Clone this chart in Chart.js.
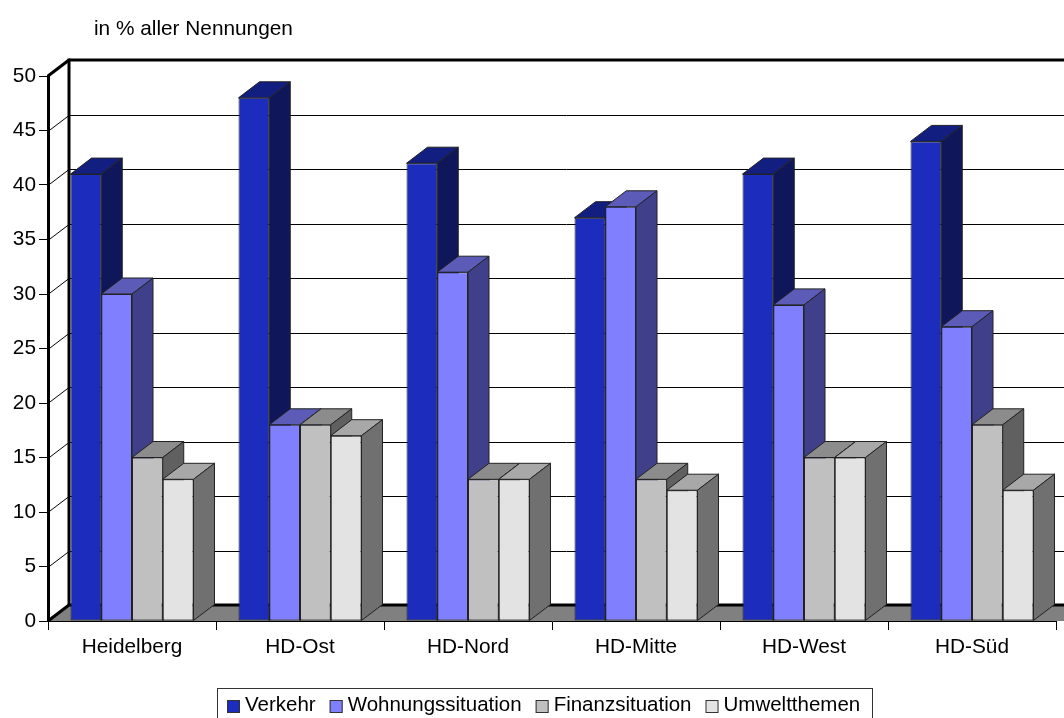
<!DOCTYPE html>
<html>
<head>
<meta charset="utf-8">
<script src="https://cdn.jsdelivr.net/npm/chart.js@4/dist/chart.umd.js"></script>
<style>
  html, body { margin: 0; padding: 0; background: #fff; overflow: hidden; }
  #wrap { width: 1064px; height: 718px; }
</style>
</head>
<body>
<div id="wrap"><canvas id="chart"></canvas></div>
<script>
const categories = ["Heidelberg", "HD-Ost", "HD-Nord", "HD-Mitte", "HD-West", "HD-Süd"];
const verkehr = [41, 48, 42, 37, 41, 44];
const wohnungssituation = [30, 18, 32, 38, 29, 27];
const finanzsituation = [15, 18, 13, 13, 15, 18];
const umweltthemen = [13, 17, 13, 12, 15, 12];
const yTicks = [0, 5, 10, 15, 20, 25, 30, 35, 40, 45, 50];
const note = "in % aller Nennungen";

const FONT = '"Liberation Sans", Arial, sans-serif';
const FONT_SIZE = 20.8;
// offset of the back wall against the front plane
const DX = 21;
const DY = -16;

function poly(ctx, pts, fill, stroke) {
  ctx.beginPath();
  pts.forEach((p, i) => (i ? ctx.lineTo(p[0], p[1]) : ctx.moveTo(p[0], p[1])));
  ctx.closePath();
  if (fill) {
    ctx.fillStyle = fill;
    ctx.fill();
  }
  if (stroke) {
    ctx.strokeStyle = stroke;
    ctx.stroke();
  }
}

function line(ctx, x1, y1, x2, y2) {
  ctx.beginPath();
  ctx.moveTo(x1, y1);
  ctx.lineTo(x2, y2);
  ctx.stroke();
}

// floor, back wall and the grid lines running over it
const wallPlugin = {
  id: "wall",
  beforeDraw(chart) {
    const { ctx, width } = chart;
    const y = chart.scales.y;
    const left = y.right;
    const y0 = y.getPixelForValue(0);
    const yMax = y.getPixelForValue(50);
    ctx.save();
    poly(ctx, [[left, y0], [left + DX, y0 + DY], [width, y0 + DY], [width, y0]], "#808080");
    ctx.strokeStyle = "#000";
    ctx.lineWidth = 1;
    yTicks.slice(1, -1).forEach((v) => {
      const py = Math.round(y.getPixelForValue(v)) + 0.5;
      line(ctx, left, py, left + DX, py + DY);
      line(ctx, left + DX, py + DY, width, py + DY);
    });
    ctx.lineWidth = 3;
    line(ctx, left, yMax, left + DX, yMax + DY);
    line(ctx, left + DX, yMax + DY - 1.5, left + DX, y0 + DY);
    line(ctx, left + DX, yMax + DY, width, yMax + DY);
    line(ctx, left + DX, y0 + DY, width, y0 + DY);
    line(ctx, left, y0, left + DX, y0 + DY);
    ctx.restore();
  },
};

// bars are painted left to right, each with its top and side face first,
// so a bar's front covers the side of the one before it
const barsPlugin = {
  id: "bars3d",
  beforeDatasetDraw() {
    return false;
  },
  beforeDatasetsDraw(chart) {
    const { ctx } = chart;
    chart.data.datasets.forEach((ds, i) => {
      chart.getDatasetMeta(i).data.forEach((bar) => {
        const l = bar.x - bar.width / 2;
        const r = bar.x + bar.width / 2;
        const t = bar.y;
        const b = bar.base;
        ctx.save();
        ctx.lineWidth = 1;
        poly(ctx, [[l, t], [l + DX, t + DY], [r + DX, t + DY], [r, t]], ds.topColor, "#222");
        poly(ctx, [[r, t], [r + DX, t + DY], [r + DX, b + DY], [r, b]], ds.sideColor, "#222");
        ctx.restore();
        bar.draw(ctx);
      });
    });
  },
};

// note above the chart and the boxed legend, laid out like the original
const textPlugin = {
  id: "text",
  afterDraw(chart) {
    const { ctx } = chart;
    ctx.save();
    ctx.fillStyle = "#000";
    ctx.textBaseline = "middle";
    ctx.font = FONT_SIZE + "px " + FONT;
    ctx.fillText(note, 94, 29);
    ctx.lineWidth = 1;
    ctx.strokeStyle = "#333";
    ctx.strokeRect(217.5, 688.5, 655, 40);
    ctx.font = "20.5px " + FONT;
    let x = 227;
    chart.data.datasets.forEach((ds) => {
      ctx.fillStyle = ds.backgroundColor;
      ctx.fillRect(x, 700, 13, 13);
      ctx.strokeStyle = "#333";
      ctx.strokeRect(x + 0.5, 700.5, 12, 12);
      ctx.fillStyle = "#000";
      ctx.fillText(ds.label, x + 18, 705);
      x += 18 + ctx.measureText(ds.label).width + 14;
    });
    ctx.restore();
  },
};

function series(label, data, front, top, side) {
  return {
    label, data,
    backgroundColor: front,
    topColor: top,
    sideColor: side,
    borderColor: "#222",
    borderWidth: 1,
    borderSkipped: false,
    barPercentage: 1,
    categoryPercentage: 0.732,
  };
}

new Chart(document.getElementById("chart"), {
  type: "bar",
  data: {
    labels: categories,
    datasets: [
      series("Verkehr", verkehr, "#1C2DBE", "#121E80", "#0F175A"),
      series("Wohnungssituation", wohnungssituation, "#8080FF", "#5C5CB8", "#40408A"),
      series("Finanzsituation", finanzsituation, "#C0C0C0", "#8C8C8C", "#606060"),
      series("Umweltthemen", umweltthemen, "#E3E3E3", "#A8A8A8", "#707070"),
    ],
  },
  options: {
    responsive: true,
    maintainAspectRatio: false,
    animation: false,
    layout: { padding: { top: 76, right: 8, left: 0, bottom: 0 } },
    plugins: {
      legend: { display: false },
      title: { display: false },
      tooltip: { enabled: false },
    },
    scales: {
      x: {
        offset: true,
        afterFit(scale) { scale.height = 97; },
        border: { color: "#000", width: 1 },
        grid: { drawOnChartArea: false, color: "#000", tickLength: 9, offset: true },
        ticks: { color: "#000", font: { family: FONT, size: FONT_SIZE }, padding: 5, maxRotation: 0 },
      },
      y: {
        min: 0,
        max: 50,
        afterFit(scale) { scale.width = 48; },
        afterBuildTicks(scale) { scale.ticks = yTicks.map((value) => ({ value })); },
        border: { color: "#000", width: 3 },
        grid: { drawOnChartArea: false, color: "#000", tickLength: 9 },
        ticks: { color: "#000", font: { family: FONT, size: FONT_SIZE }, padding: 3 },
      },
    },
  },
  plugins: [wallPlugin, barsPlugin, textPlugin],
});
</script>
</body>
</html>
